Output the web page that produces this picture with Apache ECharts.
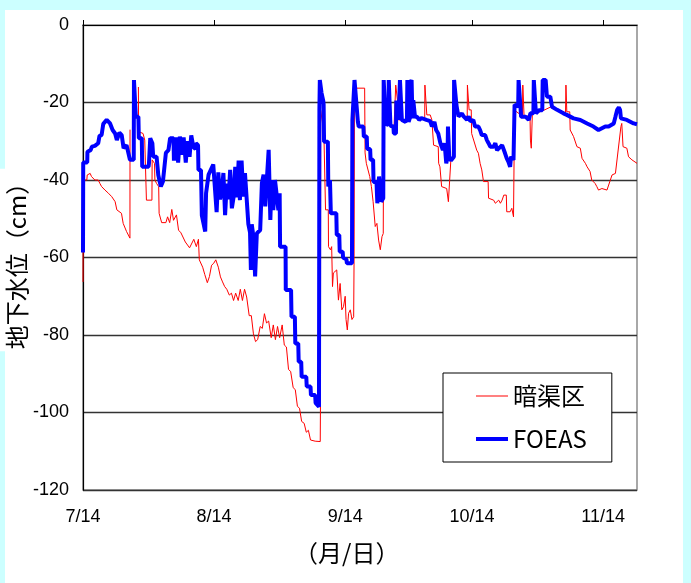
<!DOCTYPE html>
<html>
<head>
<meta charset="utf-8">
<script src="https://cdn.jsdelivr.net/npm/echarts@6/dist/echarts.min.js"></script>
<style>
  html, body { margin: 0; padding: 0; background: #ccffff; }
  #chart { width: 691px; height: 583px; }
</style>
</head>
<body>
<div id="chart"></div>
<script>
// Days counted from 7/14; x-axis ticks on the 14th of each month
const tickDays = [0, 31, 62, 92, 123];
const tickLabels = ['7/14', '8/14', '9/14', '10/14', '11/14'];
const dayMax = 131;

// Groundwater level (cm) — 暗渠区 (subsurface drain plot)
const drainDays = [
  0, 0.1, 0.9, 1.0, 1.7, 2.0, 2.4, 2.8, 3.6, 4.0, 4.4, 5.2, 6.0, 6.8, 7.6, 8.0, 9.1, 9.5, 10.3, 10.7,
  11.1, 11.12, 12.0, 13.1, 13.15, 14.2, 14.6, 14.9, 15.0, 16.3, 16.35, 16.9, 17.0, 17.4, 17.9, 18.0,
  18.6, 19.6, 20.0, 20.5, 21.0, 21.4, 22.1, 22.6, 23.1, 24.2, 25.2, 26.2, 26.8, 27.3, 27.5, 28.3,
  28.8, 29.4, 29.9, 30.4, 30.9, 31.4, 32.0, 32.5, 33.0, 33.5, 34.0, 34.6, 35.1, 35.6, 36.1, 36.7,
  37.2, 37.7, 38.2, 38.7, 39.3, 39.8, 40.3, 40.8, 41.3, 41.9, 42.4, 42.9, 43.4, 43.9, 44.5, 45.0,
  45.5, 46.0, 46.5, 47.1, 47.6, 48.1, 48.6, 49.1, 49.7, 50.2, 50.7, 51.2, 51.7, 52.3, 52.8, 53.3,
  53.8, 54.9, 56.1, 56.15, 56.2, 56.6, 57.0, 57.3, 57.35, 58.0, 58.05, 58.5, 58.8, 59.0, 59.2, 60.0,
  60.4, 60.8, 61.2, 61.6, 62.0, 62.2, 62.5, 62.8, 63.2, 63.6, 64.0, 64.1, 64.2, 66.6, 66.7, 67.0,
  67.8, 68.2, 68.6, 69.1, 69.5, 69.9, 70.3, 70.7, 71.0, 71.1, 71.6, 73.4, 73.5, 73.9, 73.95, 74.4,
  74.6, 76.0, 78.5, 80.8, 80.85, 81.3, 82.1, 82.5, 82.9, 84.0, 84.1, 84.4, 84.8, 86.0, 86.4, 86.8,
  87.0, 87.7, 87.75, 88.3, 89.2, 90.0, 90.85, 90.9, 91.3, 91.8, 91.9, 92.3, 93.1, 93.5, 93.9, 94.3,
  94.7, 95.8, 95.9, 97.1, 97.5, 97.9, 98.3, 98.7, 99.1, 99.5, 100.1, 100.2, 101.0, 101.4, 101.8, 102.0,
  102.05, 103.9, 104.0, 104.3, 105.0, 105.7, 105.8, 106.0, 106.2, 106.25, 106.6, 108.6, 110.5, 112.0,
  114.1, 114.2, 114.4, 115.1, 115.2, 116.0, 116.8, 117.6, 118.0, 118.8, 119.2, 119.9, 120.3, 121.1,
  121.5, 121.9, 122.7, 123.1, 123.9, 124.3, 124.7, 125.1, 125.9, 127.2, 127.4, 127.7, 128.6, 129.0,
  129.8, 130.2, 131.0
];
const drainLevels = [
  -66.3, -40, -40, -38.7, -38.3, -39.1, -38.7, -40, -40, -40.9, -41.7, -42.6, -43.4, -44.3, -45.6, -47.7, -48.6, -51.2, -53.3, -53.8,
  -55, -27, null, -16, -27.5, -28, -29.7, -29.7, -45.2, -45.2, -34.8, -35.7, -40, -40.9, -41.7, -48.6,
  -51, -51, -49.5, -51, -47.6, -50.4, -49, -53, -53.5, -56, -57.5, -55.3, -57.2, -55.3, -60.6, -62.5,
  -64.4, -66.5, -64.9, -62, -61.5, -60.6, -62.5, -65, -66.3, -67.5, -68.2, -69.7, -69.2, -71.1, -69.2, -71.1,
  -68.2, -71.1, -68.2, -70.2, -75, -75, -79.7, -81.7, -81.2, -77.8, -78.3, -74.5, -76.9, -76.4, -80.7, -77.4,
  -81.2, -77.8, -80.7, -77.4, -82.6, -83.1, -88.9, -89.4, -93.6, -94.1, -98.4, -98.9, -102.3, -102.8, -105.1, -104.6,
  -107.1, -107.4, -107.5, -98, -22, -25, -30, -30, -47.7, -47.7, -57.2, -58, -57.2, -67.5, -64, -63.2,
  -71, -66.7, -73.5, -72.7, -70, -76, -78.7, -74.4, -73.5, -76, -75.3, -60, -16.3, -16.3, -33, -35.7,
  -39.1, -41.7, -45.6, -52, -51.2, -55.5, -58, -54.6, -53.8, -17.6, -25.5, -26, -27.5, -27.5, -15.5, -19.8,
  -24.5, -24.5, -23.7, -24.3, -15.5, -23.2, -23.2, -24.5, -31, -31.4, -35.7, -36.6, -41.7, -42.2, -45.6, -45.2,
  -34.5, -34, -20.6, -21.5, -23.2, -23.6, -23.6, -15.5, -21.9, -21.9, -28, -28.4, -32.3, -33.1, -35.7, -37.4,
  -40.4, -40.4, -44.7, -45.2, -46, -45.6, -45.2, -46, -45.2, -43.9, -43.9, -48.2, -48.2, -47.3, -49.5, -49.5,
  -22, -23.5, -15.5, -23.7, -23.5, -23.5, -29.7, -31.8, -31.8, -23, -22.8, -22.2, -21.2, -22,
  -22.6, -15.5, -22.4, -22.4, -27.1, -28.8, -31.4, -31.8, -34.4, -35.7, -36.6, -37.8, -40, -40.9,
  -41.7, -42.6, -42.2, -42.6, -42.6, -41.3, -40.9, -38.7, -38.3, -26.2, -25.4, -31.4, -31.8, -34,
  -34.8, -35.3, -35.7
];

// Groundwater level (cm) — FOEAS plot
const foeasDays = [
  0, 0.05, 1.0, 1.05, 1.8, 2.1, 2.8, 3.6, 3.9, 4.4, 4.8, 5.6, 6.4, 7.0, 7.6, 8.0, 8.6, 9.15, 9.6, 10.3,
  10.7, 11.1, 12.0, 12.05, 12.4, 12.5, 13.1, 13.2, 13.9, 14.0, 15.5, 15.6, 15.9, 16.4, 16.6, 17.4, 17.8, 18.4,
  18.9, 19.6, 20.2, 20.6, 21.4, 21.5, 21.9, 22.0, 22.4, 22.5, 22.8, 22.9, 23.3, 23.4, 23.7, 23.8, 24.2, 24.3,
  24.6, 24.7, 25.1, 25.2, 25.5, 25.6, 26.0, 26.1, 26.6, 26.7, 27.2, 27.3, 27.9, 28.1, 28.9, 29.1, 29.7, 30.8,
  31.6, 32.0, 32.4, 32.8, 33.2, 33.6, 34.0, 34.4, 34.8, 35.2, 35.6, 36.0, 36.4, 36.8, 37.1, 37.5, 37.9, 38.3,
  38.7, 39.1, 39.5, 39.7, 39.9, 40.3, 40.7, 41.1, 41.9, 42.3, 42.7, 43.1, 43.5, 43.9, 44.3, 44.6, 45.0, 45.4,
  45.8, 46.2, 46.5, 46.6, 47.9, 47.95, 49.2, 49.3, 50.1, 50.2, 50.9, 51.0, 51.6, 51.7, 52.8, 52.9, 53.8, 53.9,
  54.9, 55.0, 55.8, 55.9, 56.0, 56.4, 56.8, 56.9, 57.0, 57.9, 58.0, 58.3, 58.4, 58.6, 59.9, 60.0, 60.6, 60.7,
  61.4, 61.5, 62.3, 62.4, 63.6, 63.7, 64.2, 64.6, 65.0, 65.2, 66.3, 66.4, 67.1, 67.2, 67.9, 68.0, 68.6, 68.7,
  69.4, 69.6, 69.9, 70.0, 70.4, 70.5, 71.0, 71.1, 71.6, 72.2, 72.3, 72.6, 72.7, 73.4, 73.5, 74.0, 74.1, 74.3,
  74.6, 74.9, 74.95, 75.2, 75.4, 75.8, 76.3, 76.6, 76.7, 76.9, 77.0, 77.3, 77.4, 77.7, 77.9, 78.1, 78.5, 79.0,
  79.5, 80.0, 80.4, 81.2, 81.5, 82.1, 82.5, 82.8, 83.1, 83.5, 84.0, 84.4, 84.5, 85.1, 85.5, 85.9, 86.2, 86.3,
  86.5, 86.6, 87.0, 87.7, 87.75, 88.3, 88.5, 88.8, 89.2, 89.6, 90.0, 90.8, 91.2, 91.6, 91.9, 92.3, 92.7, 93.5,
  93.9, 94.3, 94.7, 95.1, 95.5, 95.9, 96.3, 97.1, 97.5, 97.9, 98.3, 99.1, 99.5, 99.8, 100.2, 100.6, 101.0, 101.2,
  101.4, 101.8, 102.0, 102.05, 102.9, 103.0, 103.4, 103.6, 104.7, 105.0, 105.4, 105.8, 106.5, 106.6, 106.9, 107.1,
  107.4, 107.8, 108.6, 108.7, 109.4, 109.7, 110.5, 110.9, 112.1, 113.6, 114.4, 116.0, 117.6, 119.2, 120.7, 121.9,
  123.5, 124.3, 125.5, 125.9, 126.3, 126.7, 127.0, 127.2, 128.6, 130.2, 131.0
];
const foeasLevels = [
  -58.7, -35.5, -35.5, -32.7, -32.3, -31.4, -31.2, -30.5, -28.6, -28.4, -25.5, -24.5, -25.4, -27.1, -28, -29.7, -27.8, -28.4, -31.8, -31,
  -30.5, -34.8, -34.8, -14.2, -14.2, -23.7, -23.7, -29.2, -29.2, -36.6, -36.6, -35.7, -29.2, -30.5, -34, -34, -38.7, -41.7,
  -40.4, -33, -32.3, -29.2, -29.2, -35, -35, -29, -29, -35.5, -35.5, -28.8, -28.8, -33.5, -33.5, -29, -29.5, -35.5,
  -35.5, -30, -30, -34, -34, -28.5, -28.8, -31.5, -32, -30.5, -31, -37.4, -37.4, -49.1, -53.3, -43.4, -38.6, -36,
  -48.3, -38, -45, -43, -38.2, -49.1, -40.9, -45, -37.4, -47.3, -44.5, -36.6, -44.5, -35, -45.2, -35, -44.3, -38.2,
  -38.2, -51.4, -53.6, -63.2, -51.4, -54.6, -64.9, -53.8, -52.9, -40.8, -38.6, -46.8, -39.4, -32.2, -50.3, -40, -47.8, -40,
  -40, -47.8, -43.4, -57.2, -57.2, -68.4, -68.4, -75.3, -75.3, -82.2, -82.2, -86.9, -86.9, -90.8, -90.8, -93.3, -93.3, -95.5,
  -95.5, -97.5, -98.5, -22, -14.2, -17.5, -19.5, -20.5, -30.1, -30.1, -41.7, -41.7, -40, -48.6, -48.6, -54.2, -54.2, -58.5,
  -58.5, -60, -60.5, -61.5, -61.5, -24.6, -14.2, -14.2, -25, -26.2, -26.2, -28.8, -28.8, -32, -32, -34.8, -34.8, -40.5,
  -40.5, -46, -46, -39.1, -39.5, -45.6, -44.7, -14.2, -25.5, -25.8, -14.2, -14.2, -26, -26.2, -28, -28, -19.5, -20.5,
  -24.5, -24.5, -14.2, -14.2, -24.5, -24, -25, -24, -14.2, -14.2, -25, -24, -15, -14.2, -24.1, -19.4, -23.7, -23.7,
  -24.5, -24, -24.5, -24.5, -25, -24.8, -26.2, -26.2, -25, -27.1, -28, -28, -30.5, -32.3, -30.5, -35.7, -34, -26.2,
  -26.2, -34, -35, -34, -14.2, -20.6, -22, -23.6, -23.2, -22.8, -23.6, -24.5, -23.6, -24.9, -25.4, -24.5, -26.2, -26.2,
  -27.1, -28.4, -28.8, -28.4, -29.7, -30.5, -31.4, -31.4, -30.5, -32.3, -31.8, -31, -31, -33.1, -34.4, -35.3, -36.6, -34,
  -34, -34.8, -35, -20.6, -21, -14.2, -14.2, -23.7, -23.7, -24, -24.5, -22.8, -22.8, -14.2, -14.2, -22.8,
  -22.8, -22, -22, -14.2, -14.2, -18.5, -18.5, -21.1, -21.9, -22.8, -23.2, -24.1, -24.5, -25.4, -26.2, -27.1,
  -26.2, -26.2, -25.4, -23.7, -21.9, -21.3, -21.9, -24.1, -24.5, -25.4, -25.6
];

const zip = (xs, ys) => xs.map((x, i) => [x, ys[i]]);

const chart = echarts.init(document.getElementById('chart'), null, { renderer: 'canvas' });

const numFont = '"Liberation Sans", Arial, sans-serif';
const cjkFont = '"Noto Sans CJK JP", "Noto Sans", sans-serif';

chart.setOption({
  backgroundColor: '#ccffff',
  animation: false,
  graphic: [
    { type: 'rect', z: -100, silent: true, shape: { x: 5, y: 10, width: 678, height: 573 }, style: { fill: '#ffffff' } },
    // x-axis title
    { type: 'text', left: 294, top: 541, silent: true,
      style: { text: '（月/日）', font: '24px ' + cjkFont, fill: '#000' } },
    // y-axis title, rotated to read bottom-to-top
    { type: 'text', x: 17, y: 260, rotation: Math.PI / 2, silent: true,
      style: { text: '地下水位（cm）', font: '24px ' + cjkFont, fill: '#000',
               align: 'center', verticalAlign: 'middle',
               backgroundColor: '#fff', padding: [5, 2] } }
  ],
  grid: {
    left: 83, top: 25, right: 54, bottom: 93,
    containLabel: false, outerBoundsMode: 'none',
    show: true, borderColor: '#8c8c8c', borderWidth: 1.5, backgroundColor: 'transparent'
  },
  legend: {
    data: [
      { name: '暗渠区', icon: 'path://M0,0 L32,0 L32,1 L0,1 Z' },
      { name: 'FOEAS', icon: 'path://M0,0 L32,0 L32,4 L0,4 Z' }
    ],
    orient: 'vertical',
    left: 443, top: 373,
    backgroundColor: '#ffffff',
    borderColor: '#000', borderWidth: 1,
    padding: [10, 25, 10, 33],
    itemWidth: 32, itemHeight: 14, itemGap: 17,
    itemStyle: { borderWidth: 0 },
    textStyle: { fontSize: 24, color: '#000', fontFamily: cjkFont, lineHeight: 26 }
  },
  xAxis: {
    type: 'value',
    min: 0, max: dayMax,
    axisLine: { show: true, lineStyle: { color: '#000', width: 1.2 } },
    axisTick: { show: true, inside: true, length: 5, customValues: tickDays, lineStyle: { color: '#000' } },
    axisLabel: {
      customValues: tickDays,
      formatter: v => tickLabels[tickDays.indexOf(v)],
      fontSize: 18, fontFamily: numFont, color: '#000', margin: 18
    },
    splitLine: { show: false }
  },
  yAxis: {
    type: 'value',
    min: -120, max: 0, interval: 20,
    axisLine: { show: true, lineStyle: { color: '#000', width: 1.2 } },
    axisTick: { show: false },
    axisLabel: { fontSize: 18, fontFamily: numFont, color: '#000', margin: 14 },
    splitLine: { show: true, lineStyle: { color: ['#333', '#333', '#333', '#333', '#333', '#333', '#8c8c8c'], width: 1.3 } }
  },
  series: [
    {
      name: '暗渠区', type: 'line', data: zip(drainDays, drainLevels),
      symbol: 'none', connectNulls: false,
      lineStyle: { color: '#ff0000', width: 1 }, itemStyle: { color: '#ff0000' }
    },
    {
      name: 'FOEAS', type: 'line', data: zip(foeasDays, foeasLevels),
      symbol: 'none',
      lineStyle: { color: '#0000ff', width: 4 }, itemStyle: { color: '#0000ff' }
    }
  ]
});
</script>
</body>
</html>
